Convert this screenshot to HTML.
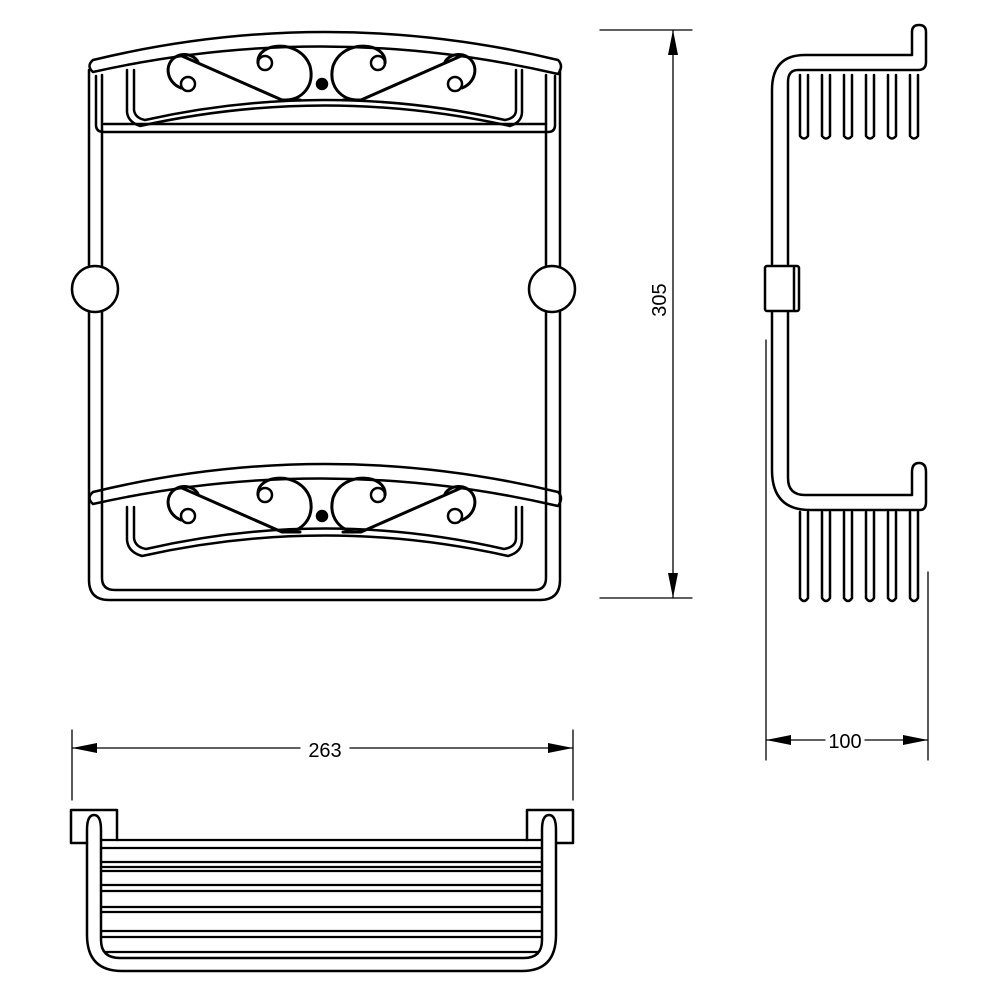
<!DOCTYPE html>
<html><head><style>body{margin:0;background:#fff}svg{display:block}</style></head>
<body>
<svg width="1000" height="1000" viewBox="0 0 1000 1000" xmlns="http://www.w3.org/2000/svg" fill="none" stroke="#000" stroke-width="2.5" stroke-linecap="round" stroke-linejoin="round">
<defs>
<g id="fil">
  <circle cx="265" cy="63" r="7"/>
  <circle cx="378" cy="63" r="7"/>
  <circle cx="188" cy="84" r="7"/>
  <circle cx="455" cy="84" r="7"/>
  <circle cx="322" cy="84" r="5" fill="#000"/>
  <path d="M258 63 C256 42 300 38 310 66 C315 86 302 100 285 100" stroke-width="3"/>
  <path d="M385 63 C387 42 343 38 333 66 C328 86 341 100 358 100" stroke-width="3"/>
  <path d="M181 88 C165 82 163 60 180 55 C190 53 196 58 198 62" stroke-width="3"/>
  <path d="M462 88 C478 82 480 60 463 55 C453 53 447 58 445 62" stroke-width="3"/>
  <path d="M182 56 L282 100 L300 100" stroke-width="3"/>
  <path d="M461 56 L361 100 L343 100" stroke-width="3"/>
</g>
</defs>

<!-- ===== FRONT VIEW ===== -->
<path d="M89 70 V266 M102 75 V266 M89 312 V580 Q89 600 109 600 H540 Q560 600 560 580 V312 M546 312 V578 Q546 590 534 590 H115 Q102 590 102 578 V312"/>
<path d="M560 70 V266 M546 75 V266"/>
<circle cx="95" cy="289" r="23"/>
<circle cx="552" cy="289" r="23"/>
<!-- top band -->
<path d="M93 60 Q325 4 558 60 Q564 66 558 74 Q325 20 93 72 Q86 66 93 60 Z"/>
<path d="M96 76 V125 Q96 132 104 132 H548 Q555 132 555 125 V76"/>
<path d="M104 124 H546"/>
<path d="M127 70 V112 Q128 122 140 126 Q325 85 510 126 Q522 122 522 112 V70"/>
<path d="M134 70 V110 Q135 118 145 120 Q325 80 505 120 Q516 118 516 110 V70"/>
<use href="#fil"/>

<!-- bottom band -->
<path d="M93 492 Q325 436 558 492 Q564 498 558 506 Q325 452 93 504 Q86 498 93 492 Z"/>
<path d="M127 507 V540 Q128 552 142 556 Q325 515 508 556 Q522 552 522 540 V507"/>
<path d="M134 507 V538 Q135 547 146 549 Q325 508 504 549 Q516 547 516 538 V507"/>
<use href="#fil" transform="translate(0,432)"/>

<!-- dimension 305 -->
<path d="M600 30 H692 M600 598 H692 M673 30 V598" stroke-width="1.3"/>
<path d="M673 30 L668 55 L678 55 Z M673 598 L668 573 L678 573 Z" fill="#000" stroke="none"/>
<text transform="translate(666,300) rotate(-90)" font-family="Liberation Sans, sans-serif" font-size="20" fill="#000" stroke="none" text-anchor="middle">305</text>

<!-- ===== SIDE VIEW ===== -->
<path d="M772 264 V90 Q772 55 805 55 H912 V32 Q912 25 919 25 Q926 25 926 32 V62 Q926 70 918 70 H798 Q788 70 788 82 V264"/>
<path d="M800 75 V136 Q804 141 808 136 V75 M822 75 V136 Q826 141 830 136 V75 M844 75 V136 Q848 141 852 136 V75 M866 75 V136 Q870 141 874 136 V75 M888 75 V136 Q892 141 896 136 V75 M910 75 V136 Q914 141 918 136 V75"/>
<rect x="765" y="266" width="34" height="45" rx="2"/>
<path d="M794 268 V309"/>
<path d="M772 312 V470 Q772 510 810 510 H920 Q926 510 926 502 V472 Q926 463 919 463 Q912 463 912 472 V495 H805 Q788 495 788 478 V312"/>
<path d="M800 512 V598 Q804 604 808 598 V512 M822 512 V598 Q826 604 830 598 V512 M844 512 V598 Q848 604 852 598 V512 M866 512 V598 Q870 604 874 598 V512 M888 512 V598 Q892 604 896 598 V512 M910 512 V598 Q914 604 918 598 V512"/>
<path d="M766 340 V760 M928 572 V760 M766 740 H825 M865 740 H928" stroke-width="1.3"/>
<path d="M766 740 L791 735 L791 745 Z M928 740 L903 735 L903 745 Z" fill="#000" stroke="none"/>
<text x="845" y="748" font-family="Liberation Sans, sans-serif" font-size="20" fill="#000" stroke="none" text-anchor="middle">100</text>

<!-- ===== BOTTOM VIEW ===== -->
<path d="M72 730 V800 M573 730 V800 M72 748 H300 M350 748 H573" stroke-width="1.3"/>
<path d="M72 748 L97 743 L97 753 Z M573 748 L548 743 L548 753 Z" fill="#000" stroke="none"/>
<text x="325" y="757" font-family="Liberation Sans, sans-serif" font-size="20" fill="#000" stroke="none" text-anchor="middle">263</text>

<path d="M87 843 H71 V810 H117 V840"/>
<path d="M557 843 H573 V810 H527 V840"/>
<path d="M87 830 Q87 815 94 815 Q101 815 101 830 V940 Q101 958 120 958 H524 Q542 958 542 940 V830 Q542 815 549 815 Q556 815 556 830 V935 Q556 971 522 971 H122 Q87 971 87 935 Z"/>
<g stroke-width="2.2">
<path d="M101 840 H542 M101 848 H542"/>
<path d="M101 862 H542 M101 867 H542 M101 871 H542"/>
<path d="M101 885 H542 M101 891 H542"/>
<path d="M101 907 H542 M101 912 H542"/>
<path d="M101 931 H542 M101 937 H542"/>
<path d="M105 952 H538"/>
</g>
</svg>
</body></html>
